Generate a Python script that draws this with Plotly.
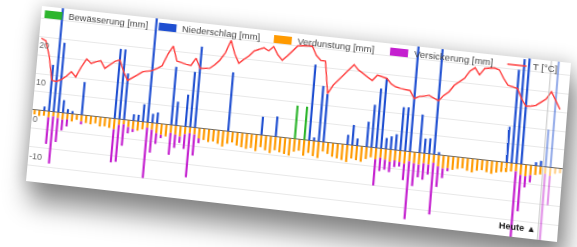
import numpy as np
import plotly.graph_objects as go

# ---------------- data ----------------
N_TAGE = 111          # days shown
HEUTE = 107           # first forecast day ("Heute" marker sits just before it)

niederschlag_tag = [2, 3, 4, 5, 6, 7, 8, 10, 17, 18, 19, 21, 22, 23, 24, 25, 26, 29, 30, 32, 33, 34,
                    41, 48, 51, 58, 59, 60, 61, 66, 67, 68, 70, 71, 72, 73, 74, 75, 76, 77, 78, 79,
                    81, 82, 83, 84, 85, 99, 100, 101, 102, 105, 106, 107, 108]
niederschlag_mm = [1.2, 12.7, 30, 19, 3.5, 1.2, 0.8, 9, 19, 19, 12.6, 1.8, 1.8, 4.8, 30, 2.5, 3, 15.8, 6.5, 8.7, 15, 22,
                   16, 5, 5.5, 20.5, 1, 15, 13, 2.7, 5.5, 2, 6.8, 11.5, 16, 19, 3, 3.6, 4.3, 11.7, 11.8, 30,
                   10.3, 4, 4.2, 30, 0.8, 9.6, 25, 28, 31, 1, 1.5, 10, 30]

bewaesserung_tag = [55, 57]
bewaesserung_mm = [9, 9]

verdunstung_mm = [1.2, 1.5, 1.3, 1.6, 1.2, 1.5, 1.8, 1.6, 2.0, 1.4, 1.7,
                  2.0, 2.2, 1.8, 2.5, 2.3, 2.6, 2.8, 1.5, 1.2, 1.8,
                  2.2, 2.5, 2.0, 1.4, 1.8, 2.6, 2.9, 3.2, 2.1, 2.4, 2.8, 2.0, 1.6, 1.8, 2.7,
                  3.0, 3.4, 3.1, 3.6, 4.2, 3.3, 2.8, 3.5, 3.8, 4.1, 3.7, 4.4, 3.2, 3.9, 4.5, 3.6, 4.0,
                  4.3, 4.6, 3.4, 3.0, 4.2, 3.3, 4.0, 4.4,
                  2.5, 3.0, 3.6, 3.9, 4.2, 4.6, 3.5, 3.8, 4.1, 3.2, 2.6, 3.0, 2.4, 2.8, 3.2, 2.7, 3.0,
                  3.3, 2.5, 2.9, 3.1, 2.6, 2.8, 2.2, 3.0, 3.4,
                  3.2, 3.5, 3.1, 2.8, 3.3, 3.6, 3.0, 2.7, 3.1, 3.4, 2.9, 2.6, 2.5, 2.2, 2.0, 2.8, 3.0,
                  2.6, 2.4, 2.1,
                  1.8, 2.2, 1.5, 1.2]

versickerung_tag = [3, 4, 5, 6, 7, 10, 17, 18, 19, 20, 21, 24, 25, 26, 27, 29, 30, 31, 32, 33, 34, 35,
                    72, 73, 74, 75, 76, 77, 78, 79, 80, 81, 82, 83, 84, 85, 86, 87,
                    101, 102, 103, 104, 107, 108]
versickerung_mm = [7.2, 12.8, 6.5, 2.9, 1.9, 0.8, 9.0, 10.0, 5.8, 1.7, 0.8, 13.6, 6.2, 2.9, 0.9, 5.9, 3.6,
                   1.7, 4.0, 11.9, 5.7, 1.3,
                   7.0, 3.6, 2.7, 2.8, 1.8, 1.2, 4.4, 15.5, 6.1, 3.4, 4.4, 2.7, 13.8, 5.5, 2.6, 0.8,
                   19.0, 9.7, 3.0, 1.9, 19.2, 7.8]

temperatur = [19.5, 19, 15, 8.5, 8.3, 9, 10, 11.4, 10.1, 13, 15.3, 14.2, 14.8, 15.2, 13.3, 14.5, 15.5,
              16, 13, 10.7, 11.5, 12.5, 13.5, 13.8, 14.1, 14.8, 15.7, 19, 21.3, 17.4, 17, 16.8, 16.6,
              18.7, 16.1, 16.2, 16.4, 17.5, 18.9, 21, 24.5, 21, 18.6, 19.8, 20.9, 22.4, 23, 23.5, 22.8,
              24.1, 22, 20.7, 22, 23.5, 25, 25.2, 25.3, 25.4, 23, 21.8, 21.7, 13.1, 15.5, 17, 18.5,
              20, 21.6, 20.3, 19.5, 18.5, 17.9, 19.5, 19.2, 18.9, 17.5, 16.9, 16.6, 16.4, 16.3, 14.3,
              15, 15.3, 15.6, 15, 14.4, 16, 17.1, 19, 20, 21.2, 23.3, 24.3, 22.5, 24.4, 24.6, 24.8,
              24.4, 22.3, 20.6, 20.3, 20, 17.4, 15.5, 15.7, 16, 17, 18, 20.1, 17.8, 15.7]

y_tick_werte = [-15, -10, -5, 0, 5, 10, 15, 20, 25]
y_tick_text = ["", "-10", "", "0", "", "10", "", "20", ""]

namen = ["Bewässerung [mm]", "Niederschlag [mm]", "Verdunstung [mm]", "Versickerung [mm]", "T [°C]"]

# ---------------- styling ----------------
W, H = 533, 180
FONT = "Liberation Sans, Arial, DejaVu Sans, sans-serif"
GREEN, BLUE, ORANGE, PURPLE, RED = "#2db52d", "#1f4fd1", "#ff9a00", "#c41fcf", "#ff3b3b"
FARBEN = [GREEN, BLUE, ORANGE, PURPLE, RED]

# where the card's corners land in the photographed page (TL, TR, BR, BL)
ECKEN = [(42, 6), (571, 63), (557, 242), (26, 181)]

# hand-drawn legend row (pixels inside the card)
LEG_X0, LEG_DX, LEG_Y = 3.5, 116.8, 8.0
SW_W, SW_H, TXT_GAP = 18, 8, 22

tage = list(range(N_TAGE))


def voll(tag, werte, vorzeichen=1):
    arr = [0.0] * N_TAGE
    for t, v in zip(tag, werte):
        arr[t] = vorzeichen * v
    return arr


deckkraft = [1.0 if t < HEUTE else 0.45 for t in tage]

fig = go.Figure()
fig.add_bar(x=tage, y=voll(bewaesserung_tag, bewaesserung_mm), name=namen[0],
            marker=dict(color=GREEN, opacity=deckkraft, line=dict(width=0)))
fig.add_bar(x=tage, y=voll(niederschlag_tag, niederschlag_mm), name=namen[1],
            marker=dict(color=BLUE, opacity=deckkraft, line=dict(width=0)))
fig.add_bar(x=tage, y=[-v for v in verdunstung_mm], name=namen[2],
            marker=dict(color=ORANGE, opacity=deckkraft, line=dict(width=0)))
fig.add_bar(x=tage, y=voll(versickerung_tag, versickerung_mm, -1), name=namen[3],
            marker=dict(color=PURPLE, opacity=deckkraft, line=dict(width=0)))
fig.add_scatter(x=tage[:len(temperatur)], y=temperatur, name=namen[4], mode="lines",
                line=dict(color=RED, width=1.4))

fig.add_shape(type="line", x0=HEUTE - 0.5, x1=HEUTE - 0.5, y0=0, y1=1, xref="x", yref="paper",
              line=dict(color="#c4c4c4", width=1))
fig.add_annotation(x=HEUTE - 0.5, y=0, xref="x", yref="paper", xanchor="right", yanchor="bottom",
                   text="<b>Heute ▲</b>", showarrow=False, xshift=-1, yshift=3,
                   font=dict(size=9, color="#222", family=FONT))

# legend row
for k, (name, farbe) in enumerate(zip(namen, FARBEN)):
    sx = LEG_X0 + k * LEG_DX
    if k < 4:
        fig.add_shape(type="rect", xref="paper", yref="paper",
                      x0=sx / W, x1=(sx + SW_W) / W,
                      y0=1 - (LEG_Y + SW_H / 2) / H, y1=1 - (LEG_Y - SW_H / 2) / H,
                      fillcolor=farbe, line=dict(width=0))
    else:
        fig.add_shape(type="line", xref="paper", yref="paper",
                      x0=sx / W, x1=(sx + SW_W + 1) / W, y0=1 - LEG_Y / H, y1=1 - LEG_Y / H,
                      line=dict(color=farbe, width=1.5))
    fig.add_annotation(x=(sx + TXT_GAP + (1 if k == 4 else 0)) / W, y=1 - LEG_Y / H,
                       xref="paper", yref="paper", xanchor="left", yanchor="middle",
                       text=name, showarrow=False,
                       font=dict(size=9.5, color="#444", family=FONT))

fig.update_layout(
    width=W, height=H, margin=dict(l=0, r=0, t=0, b=0),
    paper_bgcolor="white", plot_bgcolor="white",
    barmode="relative", bargap=0.55,
    font=dict(family=FONT, color="#444"),
    showlegend=False,
    xaxis=dict(range=[-0.5, N_TAGE - 0.5], visible=False, fixedrange=True),
    yaxis=dict(range=[-19.4, 28.3], tickvals=y_tick_werte, ticktext=y_tick_text,
               ticklabelposition="inside", ticklabelshift=9, ticklabelstandoff=-2,
               tickfont=dict(size=9, color="#666", family=FONT),
               showgrid=True, gridcolor="#e8e8e8", gridwidth=1,
               zeroline=True, zerolinecolor="#666", zerolinewidth=1,
               showline=False, ticks="", fixedrange=True),
)


def homography(src, dst):
    A, b = [], []
    for (x, y), (X, Y) in zip(src, dst):
        A.append([x, y, 1, 0, 0, 0, -X * x, -X * y]); b.append(X)
        A.append([0, 0, 0, x, y, 1, -Y * x, -Y * y]); b.append(Y)
    h = np.linalg.solve(np.array(A, float), np.array(b, float))
    return np.append(h, 1.0).reshape(3, 3)


Hm = homography([(0, 0), (W, 0), (W, H), (0, H)], ECKEN)
m3d = [Hm[0, 0], Hm[1, 0], 0, Hm[2, 0],
       Hm[0, 1], Hm[1, 1], 0, Hm[2, 1],
       0, 0, 1, 0,
       Hm[0, 2], Hm[1, 2], 0, Hm[2, 2]]
m3d_txt = ",".join("%.10f" % v for v in m3d)

post = """
var gd = document.getElementById('{plot_id}');
document.documentElement.style.background = '#ffffff';
document.body.style.margin = '0';
document.body.style.background = '#ffffff';
document.body.style.overflow = 'hidden';
gd.style.position = 'absolute';
gd.style.left = '0px';
gd.style.top = '0px';
gd.style.transformOrigin = '0 0';
gd.style.transform = 'matrix3d(MATRIX)';
gd.style.boxShadow = '0 0 16px 3px rgba(0,0,0,0.16), 6px 20px 24px 2px rgba(0,0,0,0.42)';
""".replace("MATRIX", m3d_txt)

fig.write_html("out.html", config={"displayModeBar": False, "staticPlot": True}, post_script=post)
